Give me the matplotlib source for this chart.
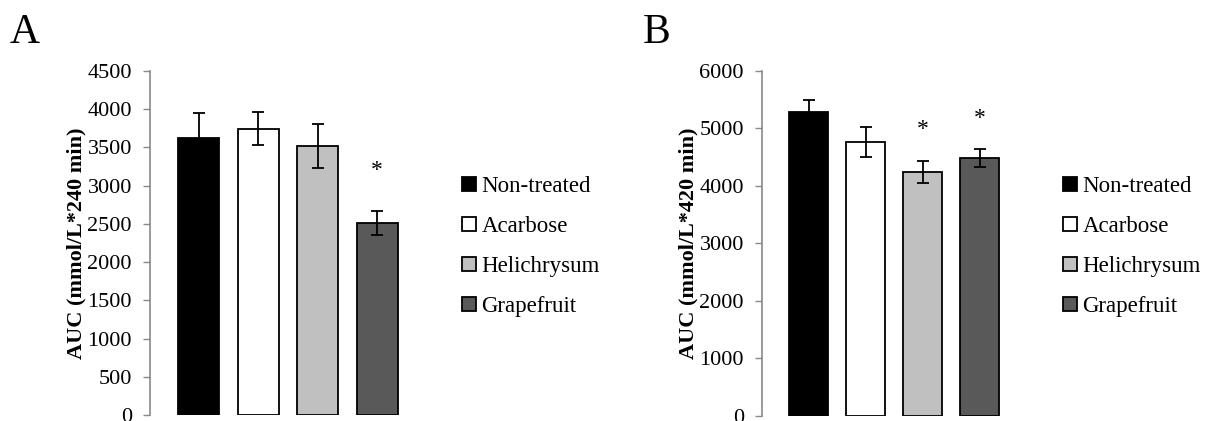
import matplotlib
matplotlib.use("Agg")
import matplotlib.pyplot as plt
from matplotlib.patches import Patch

plt.rcParams['font.family'] = ['Liberation Serif', 'DejaVu Serif']

groups = ['Non-treated', 'Acarbose', 'Helichrysum', 'Grapefruit']
colors = ['#000000', '#ffffff', '#c0c0c0', '#595959']

# Panel A: AUC over 240 min
auc_a = [3620, 3745, 3520, 2515]
err_a = [330, 215, 285, 160]
star_a = [False, False, False, True]

# Panel B: AUC over 420 min
auc_b = [5275, 4755, 4235, 4480]
err_b = [215, 260, 190, 150]
star_b = [False, False, True, True]

W, H = 1207, 421
fig = plt.figure(figsize=(W / 100, H / 100), dpi=100)


def px_axes(x0, x1, ytop, ybot):
    return fig.add_axes([x0 / W, 1 - ybot / H, (x1 - x0) / W, (ybot - ytop) / H])


def panel(ax, vals, errs, stars, ymax, step, ylabel, xlim, width, star_off):
    x = range(len(vals))
    ax.bar(x, vals, width=width, color=colors, edgecolor='black', linewidth=1.3, zorder=2)
    ax.errorbar(x, vals, yerr=errs, fmt='none', ecolor='black', elinewidth=1.3,
                capsize=4.5, capthick=1.3, zorder=3)
    for i, s in enumerate(stars):
        if s:
            ax.text(i, vals[i] + errs[i] + star_off, '*', ha='center', va='center', fontsize=17)
    ax.set_ylim(0, ymax)
    ax.set_xlim(*xlim)
    ax.set_yticks(range(0, ymax + 1, step))
    ax.tick_params(axis='y', direction='out', length=5, width=1, color='#898989',
                   labelsize=16, pad=8)
    ax.set_xticks([])
    for sp in ['top', 'right', 'bottom']:
        ax.spines[sp].set_visible(False)
    ax.spines['left'].set_color('#898989')
    ax.spines['left'].set_linewidth(1.2)
    ax.set_ylabel(ylabel, fontsize=16, fontweight='bold', labelpad=1)


ax_a = px_axes(150, 420, 71, 415)
panel(ax_a, auc_a, err_a, star_a, 4500, 500, 'AUC (mmol/L*240 min)',
      (-0.815, 3.72), 0.69, 520)

ax_b = px_axes(762, 1020, 70.7, 415.7)
panel(ax_b, auc_b, err_b, star_b, 6000, 1000, 'AUC (mmol/L*420 min)',
      (-0.816, 3.71), 0.68, 545)

handles = [Patch(facecolor=c, edgecolor='black', linewidth=1.3) for c in colors]
for x0 in (462, 1063):
    fig.legend(handles, groups, loc='upper left', bbox_to_anchor=(x0 / W, 1 - 176 / H),
               frameon=False, fontsize=16.5, handlelength=0.6, handleheight=0.6,
               handletextpad=0.25, labelspacing=0.83, borderaxespad=0, borderpad=0)

fig.text(10 / W, 1 - 33 / H, 'A', fontsize=30, va='center', ha='left')
fig.text(643 / W, 1 - 33 / H, 'B', fontsize=30, va='center', ha='left')

fig.savefig('out.png', dpi=100)
